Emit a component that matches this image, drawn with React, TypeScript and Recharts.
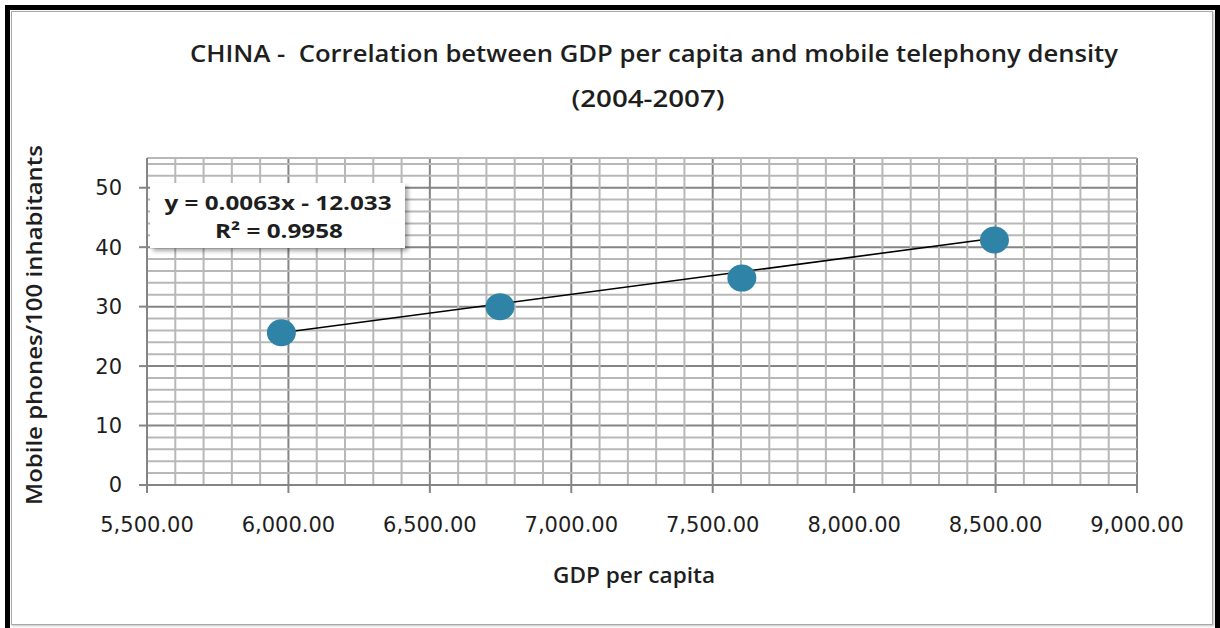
import { CartesianGrid, ReferenceLine, Scatter, ScatterChart, XAxis, YAxis } from "recharts";

const TITLE_1 = "CHINA -  Correlation between GDP per capita and mobile telephony density";
const TITLE_2 = "(2004-2007)";
const X_LABEL = "GDP per capita";
const Y_LABEL = "Mobile phones/100 inhabitants";
const EQUATION = "y = 0.0063x - 12.033";
const R_SQUARED = "R² = 0.9958";

// GDP per capita vs mobile phones / 100 inhabitants, 2004..2007
const GDP = [5975, 6748, 7603, 8496];
const MOBILE = [25.6, 30.0, 34.8, 41.2];
// linear trend line, first to last year
const TREND_X = [5975, 8496];
const TREND_Y = [25.6, 41.5];

const X_TICKS = [5500, 6000, 6500, 7000, 7500, 8000, 8500, 9000];
const Y_TICKS = [0, 10, 20, 30, 40, 50];
const X_MINOR = [
  5600, 5700, 5800, 5900, 6100, 6200, 6300, 6400, 6600, 6700, 6800, 6900,
  7100, 7200, 7300, 7400, 7600, 7700, 7800, 7900, 8100, 8200, 8300, 8400,
  8600, 8700, 8800, 8900,
];
const Y_MINOR = [
  2, 4, 6, 8, 12, 14, 16, 18, 22, 24, 26, 28, 32, 34, 36, 38, 42, 44, 46, 48,
  52, 54, 55,
];

const POINTS = GDP.map((x, i) => ({ x, y: MOBILE[i] }));
const TREND = TREND_X.map((x, i) => ({ x, y: TREND_Y[i] }));

const DOT = "#2f83a6";
const MAJOR = "#858585";
const MINOR = "#b8b8b8";
const INK = "#1e1e1e";
const TICK_FONT = "'DejaVu Sans', Verdana, sans-serif";
const LABEL_FONT = "'Open Sans', 'Noto Sans', sans-serif";

const fmtX = (v: number) =>
  v.toLocaleString("en-US", { minimumFractionDigits: 2, maximumFractionDigits: 2 });

export default function App() {
  return (
    <div style={{ position: "absolute", left: 0, top: 0, width: 1220, height: 628, background: "#fff", overflow: "hidden" }}>
      {/* black outer frame + thin grey chart border */}
      <div style={{ position: "absolute", left: 5, top: 5, width: 1215, height: 640, border: "5px solid #000", boxSizing: "border-box" }} />
      <div
        style={{
          position: "absolute",
          left: 11,
          top: 11,
          width: 1202,
          height: 614,
          border: "1.5px solid #a8a8a8",
          boxSizing: "border-box",
          boxShadow: "1px 1px 2px rgba(0,0,0,0.25)",
        }}
      />
      <div style={{ position: "absolute", left: 0, top: 0 }}>
        <ScatterChart width={1220} height={628} margin={{ top: 158, right: 83, bottom: 0, left: 0 }}>
          {X_MINOR.map((v) => (
            <ReferenceLine key={`x${v}`} x={v} stroke={MINOR} strokeWidth={2} />
          ))}
          {Y_MINOR.map((v) => (
            <ReferenceLine key={`y${v}`} y={v} stroke={MINOR} strokeWidth={2} />
          ))}
          <CartesianGrid stroke={MAJOR} strokeWidth={2} horizontalValues={Y_TICKS} verticalValues={X_TICKS} />
          <XAxis
            type="number"
            dataKey="x"
            domain={[5500, 9000]}
            ticks={X_TICKS}
            tickFormatter={fmtX}
            height={143}
            tickSize={8}
            tickMargin={24}
            stroke={MAJOR}
            strokeWidth={2}
            tick={{ fill: INK, fontSize: 21, fontFamily: TICK_FONT }}
          />
          <YAxis
            type="number"
            dataKey="y"
            domain={[0, 55]}
            ticks={Y_TICKS}
            width={147}
            tickSize={8}
            tickMargin={17}
            stroke={MAJOR}
            strokeWidth={2}
            tick={{ fill: INK, fontSize: 21, fontFamily: TICK_FONT }}
          />
          <Scatter
            data={TREND}
            line={{ stroke: "#000", strokeWidth: 1.6 }}
            shape={() => <g />}
            isAnimationActive={false}
          />
          <Scatter
            data={POINTS}
            isAnimationActive={false}
            shape={(p: { cx?: number; cy?: number }) => (
              <ellipse cx={p.cx} cy={p.cy} rx={14.5} ry={13.5} fill={DOT} />
            )}
          />
        </ScatterChart>
      </div>
      <svg width={1220} height={628} style={{ position: "absolute", left: 0, top: 0, pointerEvents: "none" }}>
        <defs>
          <filter id="shadow" x="-10%" y="-20%" width="130%" height="160%">
            <feDropShadow dx="3" dy="3" stdDeviation="2" floodColor="#000" floodOpacity="0.35" />
          </filter>
        </defs>
        <g fontFamily={LABEL_FONT} fill={INK}>
          <text
            x={654}
            y={62}
            textAnchor="middle"
            fontSize={24}
            fontWeight={600}
            textLength={928}
            lengthAdjust="spacingAndGlyphs"
            xmlSpace="preserve"
            style={{ whiteSpace: "pre" }}
          >
            {TITLE_1}
          </text>
          <text x={648} y={107} textAnchor="middle" fontSize={24} fontWeight={600} textLength={153} lengthAdjust="spacingAndGlyphs">
            {TITLE_2}
          </text>
          <text x={634} y={583} textAnchor="middle" fontSize={22} fontWeight={600} textLength={162} lengthAdjust="spacingAndGlyphs">
            {X_LABEL}
          </text>
          <text
            x={0}
            y={0}
            transform="translate(42,325) rotate(-90)"
            textAnchor="middle"
            fontSize={21}
            fontWeight={600}
            textLength={360}
            lengthAdjust="spacingAndGlyphs"
          >
            {Y_LABEL}
          </text>
          <rect x={150} y={183} width={255} height={65} fill="#fff" filter="url(#shadow)" />
          <text x={278} y={210} textAnchor="middle" fontSize={20} fontWeight={700} textLength={227} lengthAdjust="spacingAndGlyphs">
            {EQUATION}
          </text>
          <text x={279} y={238} textAnchor="middle" fontSize={20} fontWeight={700} textLength={128} lengthAdjust="spacingAndGlyphs">
            {R_SQUARED}
          </text>
        </g>
      </svg>
    </div>
  );
}
